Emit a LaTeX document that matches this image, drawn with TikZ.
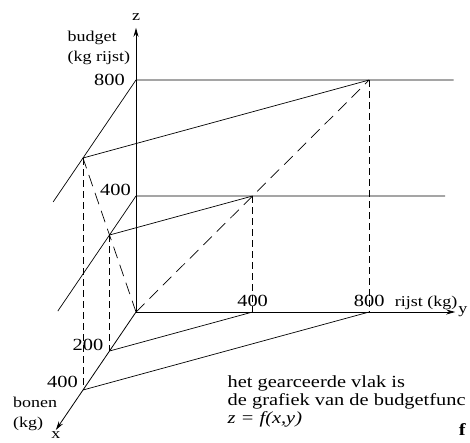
\documentclass[tikz,border=0pt]{standalone}
\usepackage{fontspec}
\setmainfont{Liberation Serif}[FakeStretch=1.2]
\usetikzlibrary{arrows.meta}
\tikzstyle{axisarrow} = [line width=0.8pt, ->, >={Stealth[length=9pt,width=5pt]}]
\tikzstyle{edge} = [line width=0.7pt]
\tikzstyle{vproj} = [line width=0.7pt, dash pattern=on 7pt off 4pt]
\tikzstyle{diag} = [line width=0.7pt, dash pattern=on 12pt off 7pt]
\tikzstyle{lbl} = [inner sep=0pt, font=\fontsize{15}{20}\selectfont]
\tikzstyle{num} = [inner sep=0pt, font=\fontsize{17}{18}\selectfont]

\begin{document}
\begin{tikzpicture}[x={(-0.1325pt,-0.195pt)}, y={(0.2915pt,0pt)}, z={(0pt,0.29pt)}]
        \useasboundingbox (-136pt,-130pt) rectangle (334pt,312pt);
        % points (x = bonen, y = rijst, z = budget)
        \coordinate (O) at (0,0,0);
        \coordinate (x200) at (200,0,0);
        \coordinate (x400) at (400,0,0);
        \coordinate (y400) at (0,400,0);
        \coordinate (y800) at (0,800,0);
        \coordinate (z400) at (0,0,400);
        \coordinate (z800) at (0,0,800);
        \coordinate (xz400) at (200,0,400);
        \coordinate (xz800) at (400,0,800);
        \coordinate (yz400) at (0,400,400);
        \coordinate (yz800) at (0,800,800);
        \coordinate (xend) at (605,0,0);
        \coordinate (yend) at (0,1095,0);
        \coordinate (zend) at (0,0,980);
        \coordinate (p400) at (590,0,400);
        \coordinate (p800) at (625,0,800);
        \coordinate (q400) at (0,1060,400);
        \coordinate (q800) at (0,1090,800);
        % axes
        \draw [axisarrow] (O) -- (zend);
        \draw [axisarrow] (O) -- (yend);
        \draw [axisarrow] (O) -- (xend);
        % levels z = 400 and z = 800
        \draw [edge] (p800) -- (z800) -- (q800);
        \draw [edge] (p400) -- (z400) -- (q400);
        \draw [edge] (xz800) -- (yz800);
        \draw [edge] (xz400) -- (yz400);
        \draw [edge] (x400) -- (y800);
        \draw [edge] (x200) -- (y400);
        % projections
        \draw [vproj] (xz800) -- (x400);
        \draw [vproj] (xz400) -- (x200);
        \draw [vproj] (yz400) -- (y400);
        \draw [vproj] (yz800) -- (y800);
        \draw [diag] (O) -- (yz800);
        \draw [diag] (O) -- (xz800);
        % labels
        \node [lbl, above=7pt] (lz) at (zend) {z};
        \node [lbl, right=3pt] (ly) at (yend) {y};
        \node [lbl, below=1pt] (lx) at (xend) {x};
        \node [lbl, anchor=north west, align=left, xshift=-68.5pt, yshift=-3pt] (lbudget) at (zend) {budget\\(kg rijst)};
        \node [num, left=11pt] (lz800) at (z800) {800};
        \node [num, anchor=south east, xshift=-5pt] (lz400) at (z400) {400};
        \node [num, above=5pt] (ly400) at (y400) {400};
        \node [num, above=5pt] (ly800) at (y800) {800};
        \node [lbl, anchor=base, yshift=6pt] (lrijst) at (0,995,0) {rijst (kg)};
        \node [num, anchor=south east, xshift=-6pt] (lx200) at (x200) {200};
        \node [num, anchor=south east, xshift=-5pt, yshift=2pt] (lx400) at (x400) {400};
        \node [lbl, anchor=north west, align=left, xshift=-70pt, yshift=-7pt] (lbonen) at (x400) {bonen\\(kg)};
        \node [num, anchor=north west, align=left, xshift=91.5pt, yshift=-63pt] (ltext) at (O)
                {het gearceerde vlak is\\de grafiek van de budgetfunc\\\textit{z = f(x,y)}};
        \node [num, font=\fontsize{17}{18}\selectfont\bfseries, xshift=7pt, yshift=-118pt] (lf) at (yend) {f};
\end{tikzpicture}
\end{document}
